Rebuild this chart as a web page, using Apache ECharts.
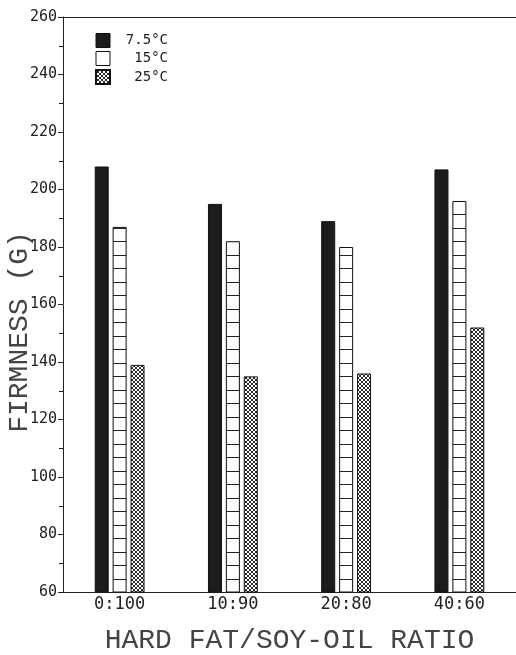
<!DOCTYPE html>
<html>
<head>
<meta charset="utf-8">
<script src="https://cdn.jsdelivr.net/npm/echarts@6/dist/echarts.min.js"></script>
<style>
html,body{margin:0;padding:0;background:#fff;}
#chart{width:516px;height:655px;}
</style>
</head>
<body>
<div id="chart"></div>
<script>
// ---- data ----
var categories = ['0:100', '10:90', '20:80', '40:60'];
var seriesNames = ['7.5°C', '15°C', '25°C'];
var firm75 = [208, 195, 189, 207];
var firm15 = [187, 182, 180, 196];
var firm25 = [139, 135, 136, 152];
var yTicks = [60, 80, 100, 120, 140, 160, 180, 200, 220, 240, 260];
var xTitle = 'HARD FAT/SOY-OIL RATIO';
var yTitle = 'FIRMNESS (G)';

// ---- patterns ----
function ladderPattern() {
  var c = document.createElement('canvas');
  c.width = 4; c.height = 27;
  var ctx = c.getContext('2d');
  ctx.fillStyle = '#ffffff';
  ctx.fillRect(0, 0, 4, 27);
  ctx.fillStyle = '#222222';
  ctx.fillRect(0, 12, 4, 1);
  ctx.fillRect(0, 25, 4, 1);
  return c;
}
function crossPattern() {
  var c = document.createElement('canvas');
  c.width = 4; c.height = 4;
  var ctx = c.getContext('2d');
  ctx.fillStyle = '#ffffff';
  ctx.fillRect(0, 0, 4, 4);
  ctx.fillStyle = '#2a2a2a';
  for (var i = 0; i < 4; i++) {
    ctx.fillRect(i, i, 1, 1);
    ctx.fillRect(3 - i, i, 1, 1);
  }
  return c;
}

var chart = echarts.init(document.getElementById('chart'), null, {renderer: 'canvas'});
var monoFont = '"DejaVu Sans Mono", "Liberation Mono", monospace';
var titleFont = '28px "Liberation Mono", monospace';

var option = {
  backgroundColor: '#ffffff',
  animation: false,
  grid: {left: 63, right: 0, top: 17, bottom: 63, containLabel: false, outerBoundsMode: 'none'},
  legend: {
    orient: 'vertical',
    left: 95,
    top: 33,
    padding: 0,
    icon: 'rect',
    itemWidth: 14,
    itemHeight: 14,
    itemGap: 3,
    data: [
      {name: seriesNames[0], itemStyle: {color: '#1c1c1c', borderColor: '#111', borderWidth: 1}},
      {name: seriesNames[1], itemStyle: {color: '#ffffff', borderColor: '#111', borderWidth: 1}},
      {name: seriesNames[2]}
    ],
    formatter: function (n) { return '{t|' + n + '}'; },
    textStyle: {
      rich: {
        t: {width: 53, align: 'right', fontFamily: monoFont, fontSize: 14, color: '#222'}
      }
    }
  },
  graphic: [{
    type: 'text',
    x: 20,
    y: 332,
    rotation: Math.PI / 2,
    style: {text: yTitle, font: titleFont, fill: '#444', align: 'center', verticalAlign: 'middle'}
  }],
  xAxis: [{
    type: 'category',
    data: categories,
    name: xTitle,
    nameLocation: 'middle',
    nameGap: 35,
    nameTextStyle: {fontFamily: '"Liberation Mono", monospace', fontSize: 28, color: '#444'},
    axisLine: {show: true, lineStyle: {color: '#222', width: 1}},
    axisTick: {show: false},
    axisLabel: {fontFamily: monoFont, fontSize: 17, color: '#222', margin: 4}
  }, {
    type: 'category',
    data: categories,
    position: 'top',
    axisLine: {show: true, lineStyle: {color: '#222', width: 1}},
    axisTick: {show: false},
    axisLabel: {show: false}
  }],
  yAxis: {
    type: 'value',
    min: yTicks[0],
    max: yTicks[yTicks.length - 1],
    interval: yTicks[1] - yTicks[0],
    axisLine: {show: true, lineStyle: {color: '#222', width: 1}},
    axisTick: {show: true, inside: false, length: 5, lineStyle: {color: '#222'}},
    minorTick: {show: true, splitNumber: 2, length: 4, lineStyle: {color: '#222'}},
    splitLine: {show: false},
    axisLabel: {fontFamily: monoFont, fontSize: 15, color: '#222', margin: 6}
  },
  series: [
    {
      name: seriesNames[0], type: 'bar', data: firm75,
      barWidth: 14, barGap: '28%',
      itemStyle: {color: '#1c1c1c', borderColor: '#111', borderWidth: 1}
    },
    {
      name: seriesNames[1], type: 'bar', data: firm15,
      barWidth: 14, barGap: '28%',
      itemStyle: {color: {image: ladderPattern(), repeat: 'repeat'}, borderColor: '#111', borderWidth: 1}
    },
    {
      name: seriesNames[2], type: 'bar', data: firm25,
      barWidth: 14, barGap: '28%',
      itemStyle: {color: {image: crossPattern(), repeat: 'repeat'}, borderColor: '#111', borderWidth: 1}
    }
  ]
};
chart.setOption(option);
</script>
</body>
</html>
